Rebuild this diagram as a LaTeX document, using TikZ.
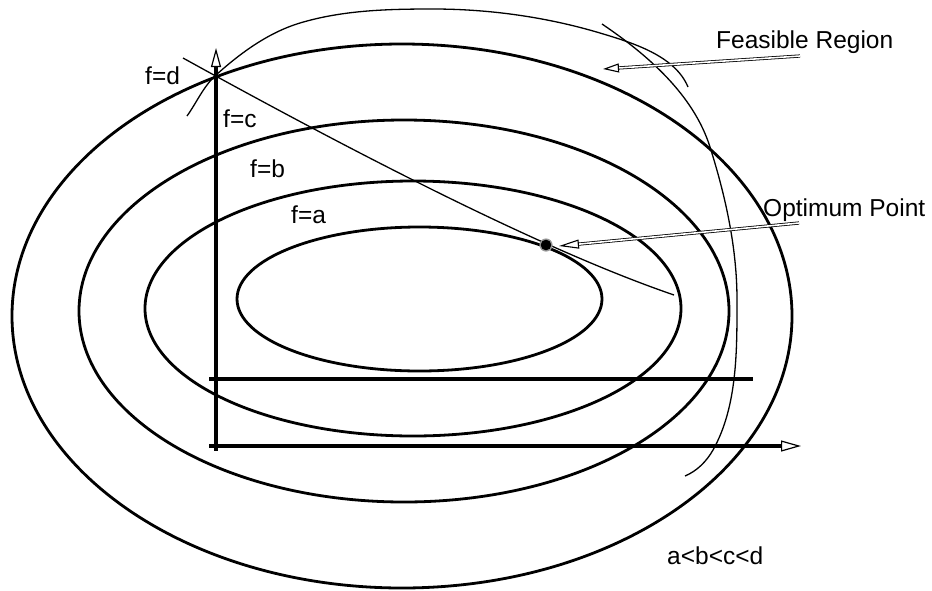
\documentclass[tikz,border=0pt]{standalone}
\usepackage{fontspec}
\setmainfont{Liberation Sans}
\usetikzlibrary{arrows.meta,calc}
\begin{document}
\begin{tikzpicture}[x=1pt,y=-1pt,
  contour/.style={line width=2.8pt},
  thinline/.style={line width=1.3pt},
  axisline/.style={line width=3.4pt},
  lbl/.style={anchor=base west, inner sep=0pt, font=\fontsize{24.5}{28}\selectfont},
  dblshaft/.style={double=white, double distance=1.6pt, line width=0.8pt},
  hollowtip/.style={-{Triangle[open,length=#1,width=9pt,line width=1.1pt]}, line width=1.1pt}
]
\useasboundingbox (0,0) rectangle (932,590);

% level-set centres
\coordinate (cd) at (402,316);
\coordinate (cc) at (404,311);
\coordinate (cb) at (413,308.5);
\coordinate (ca) at (419.5,299);

% contours
\draw[contour] (cd) ellipse [x radius=390pt, y radius=272pt];
\draw[contour] (cc) ellipse [x radius=325pt, y radius=191pt];
\draw[contour] (cb) ellipse [x radius=268pt, y radius=127.5pt];
\draw[contour] (ca) ellipse [x radius=182.5pt, y radius=72pt];

% axes
\coordinate (vbot) at (216,450.5);
\coordinate (vtip) at (216,48);
\coordinate (hleft) at (209,446);
\coordinate (htip) at (801,446);
\coordinate (h2left) at (209,379);
\coordinate (h2right) at (753,379);
\draw[axisline, -{Triangle[open,length=19pt,width=10pt,line width=1.2pt]}] (vbot) -- (vtip);
\draw[axisline, -{Triangle[open,length=20pt,width=11pt,line width=1.2pt]}] (hleft) -- (htip);
\draw[axisline] (h2left) -- (h2right);

% constraint line tangent at the optimum
\coordinate (cl0) at (183,58);
\coordinate (cl1) at (674,295);
\draw[thinline] (cl0) .. controls (400,178) and (563,257) .. (cl1);

% feasible region boundary arcs
\coordinate (fa0) at (187,116);
\coordinate (fa1) at (688,87);
\draw[thinline] (fa0) .. controls (197,102) and (203.4,86.4) .. (216,75)
  .. controls (240.5,53) and (268.4,32.5) .. (300,23)
  .. controls (343,10.1) and (388,9) .. (433,9)
  .. controls (489,9) and (546.4,17) .. (600,33)
  .. controls (632.6,42.8) and (675,55.6) .. (fa1);
\coordinate (fb0) at (602,24);
\coordinate (fb1) at (685,476);
\draw[thinline] (fb0) .. controls (647.6,54.8) and (693.5,94.7) .. (710,147)
  .. controls (725.6,196.4) and (737,248) .. (737,300)
  .. controls (737,350) and (737.5,406.5) .. (713,450)
  .. controls (706.6,461.3) and (697,471) .. (fb1);

% optimum point
\coordinate (opt) at (546,245);
\fill[black!40] (opt) circle (6.6pt);
\fill (opt) circle (5.3pt);

% labels
\node[lbl] (ld) at (145,84) {f=d};
\node[lbl] (lc) at (223,127) {f=c};
\node[lbl] (lb) at (250,177) {f=b};
\node[lbl] (la) at (291,223) {f=a};
\node[lbl] (lfr) at (716,48) {Feasible Region};
\node[lbl] (lop) at (763,216) {Optimum Point};
\node[lbl] (lord) at (667,564) {a<b<c<d};

% pointer arrows
\coordinate (frtail) at (800,56);
\coordinate (frtip) at (603,69);
\draw[dblshaft, shorten >=15pt] (frtail) -- (frtip);
\draw[hollowtip=16pt] ($(frtip)!16pt!(frtail)$) -- (frtip);

\coordinate (optail) at (799,223);
\coordinate (optip) at (559,246);
\draw[dblshaft, shorten >=19pt] (optail) -- (optip);
\draw[hollowtip=20pt] ($(optip)!20pt!(optail)$) -- (optip);
\end{tikzpicture}
\end{document}
